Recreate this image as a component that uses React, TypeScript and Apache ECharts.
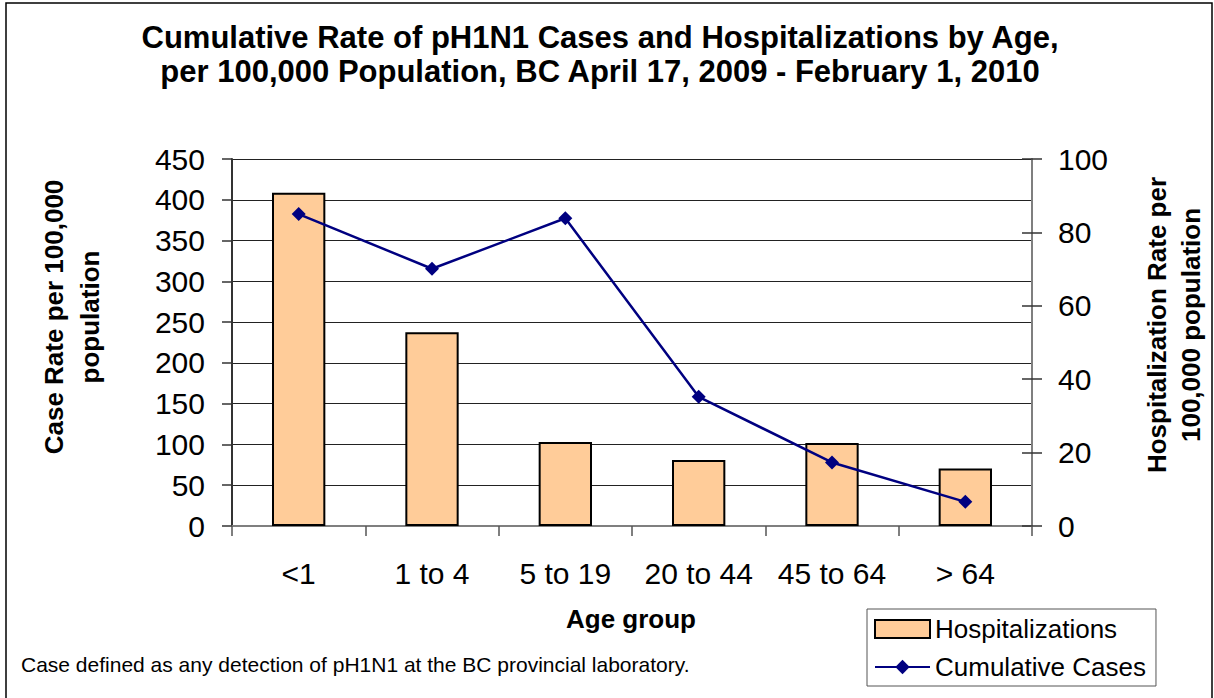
import React, { useEffect, useRef } from "react";
import * as echarts from "echarts";

const categories = ["<1", "1 to 4", "5 to 19", "20 to 44", "45 to 64", "> 64"];
const hospitalizationRates = [90.8, 52.8, 22.9, 18.0, 22.6, 15.7];
const caseRates = [382.5, 315.4, 377.3, 158.4, 77.9, 29.6];
const caseAxis = { min: 0, max: 450, interval: 50 };
const hospAxis = { min: 0, max: 100, interval: 20 };

const FONT = "'Liberation Sans', Arial, Helvetica, sans-serif";

export default function App() {
  const ref = useRef<HTMLDivElement>(null);
  useEffect(() => {
    document.body.style.margin = "0";
    const chart = echarts.init(ref.current as HTMLDivElement, null, { renderer: "svg" });
    const option: any = {
      animation: false,
      backgroundColor: "#ffffff",
      textStyle: { fontFamily: FONT, color: "#000" },
      grid: { left: 232, right: 182, top: 159, bottom: 172, containLabel: false },
      legend: {
        orient: "vertical",
        left: 867,
        top: 609,
        width: 289,
        backgroundColor: "#fff",
        borderColor: "#555",
        borderWidth: 1,
        padding: [7, 10, 6, 7],
        itemGap: 12,
        itemWidth: 55,
        itemHeight: 18,
        textStyle: { fontSize: 26, color: "#000", fontFamily: FONT },
        data: [
          { name: "Hospitalizations", icon: "rect" },
          { name: "Cumulative Cases" },
        ],
      },
      xAxis: {
        type: "category",
        data: categories,
        boundaryGap: true,
        axisLine: { lineStyle: { color: "#7f7f7f", width: 2 } },
        axisTick: { show: true, length: 10, interval: 0, lineStyle: { color: "#555", width: 1.5 } },
        axisLabel: { fontSize: 30, color: "#000", margin: 32, interval: 0, fontFamily: FONT },
      },
      yAxis: [
        {
          type: "value",
          position: "left",
          min: caseAxis.min,
          max: caseAxis.max,
          interval: caseAxis.interval,
          axisLine: { show: true, lineStyle: { color: "#333", width: 2 } },
          axisTick: { show: true, length: 10, lineStyle: { color: "#333", width: 1.5 } },
          axisLabel: { fontSize: 30, color: "#000", margin: 27, fontFamily: FONT },
          splitLine: { show: true, lineStyle: { color: "#222", width: 1 } },
        },
        {
          type: "value",
          position: "right",
          min: hospAxis.min,
          max: hospAxis.max,
          interval: hospAxis.interval,
          axisLine: { show: true, lineStyle: { color: "#7f7f7f", width: 2 } },
          axisTick: { show: true, length: 10, lineStyle: { color: "#333", width: 1.5 } },
          axisLabel: { fontSize: 30, color: "#000", margin: 26, fontFamily: FONT },
          splitLine: { show: false },
        },
        {
          type: "value",
          position: "right",
          min: hospAxis.min,
          max: hospAxis.max,
          interval: hospAxis.interval,
          axisLine: { show: false },
          axisTick: { show: true, inside: true, length: 10, lineStyle: { color: "#333", width: 1.5 } },
          axisLabel: { show: false },
          splitLine: { show: false },
        },
      ],
      series: [
        {
          name: "Hospitalizations",
          type: "bar",
          yAxisIndex: 1,
          data: hospitalizationRates,
          barWidth: "40%",
          itemStyle: { color: "#FFCC99", borderColor: "#000", borderWidth: 2 },
        },
        {
          name: "Cumulative Cases",
          type: "line",
          yAxisIndex: 0,
          data: caseRates,
          symbol: "diamond",
          symbolSize: 14,
          lineStyle: { color: "#000080", width: 2.5 },
          itemStyle: { color: "#000080" },
          z: 5,
        },
      ],
      graphic: [
        {
          type: "rect",
          shape: { x: 6, y: 3, width: 1206, height: 700 },
          style: { fill: "none", stroke: "#000", lineWidth: 1.5 },
          z: -10,
          silent: true,
        },
        {
          type: "text",
          x: 600,
          y: 54,
          style: {
            text: "Cumulative Rate of pH1N1 Cases and Hospitalizations by Age,\nper 100,000 Population, BC April 17, 2009 - February 1, 2010",
            fontSize: 31,
            lineHeight: 34,
            fontWeight: "bold",
            fontFamily: FONT,
            fill: "#000",
            align: "center",
            verticalAlign: "middle",
          },
        },
        {
          type: "text",
          x: 72,
          y: 317,
          rotation: Math.PI / 2,
          style: {
            text: "Case Rate per 100,000\npopulation",
            fontSize: 26,
            fontWeight: "bold",
            lineHeight: 36,
            fontFamily: FONT,
            fill: "#000",
            align: "center",
            verticalAlign: "middle",
          },
        },
        {
          type: "text",
          x: 1174,
          y: 325,
          rotation: Math.PI / 2,
          style: {
            text: "Hospitalization Rate per\n100,000 population",
            fontSize: 26,
            fontWeight: "bold",
            lineHeight: 34,
            fontFamily: FONT,
            fill: "#000",
            align: "center",
            verticalAlign: "middle",
          },
        },
        {
          type: "text",
          x: 631,
          y: 619,
          style: {
            text: "Age group",
            fontSize: 26,
            fontWeight: "bold",
            fontFamily: FONT,
            fill: "#000",
            align: "center",
            verticalAlign: "middle",
          },
        },
        {
          type: "text",
          x: 21,
          y: 664,
          style: {
            text: "Case defined as any detection of pH1N1 at the BC provincial laboratory.",
            fontSize: 21,
            fontFamily: FONT,
            fill: "#000",
            align: "left",
            verticalAlign: "middle",
          },
        },
      ],
    };
    chart.setOption(option);
    return () => chart.dispose();
  }, []);
  return <div ref={ref} style={{ width: 1214, height: 698 }} />;
}
